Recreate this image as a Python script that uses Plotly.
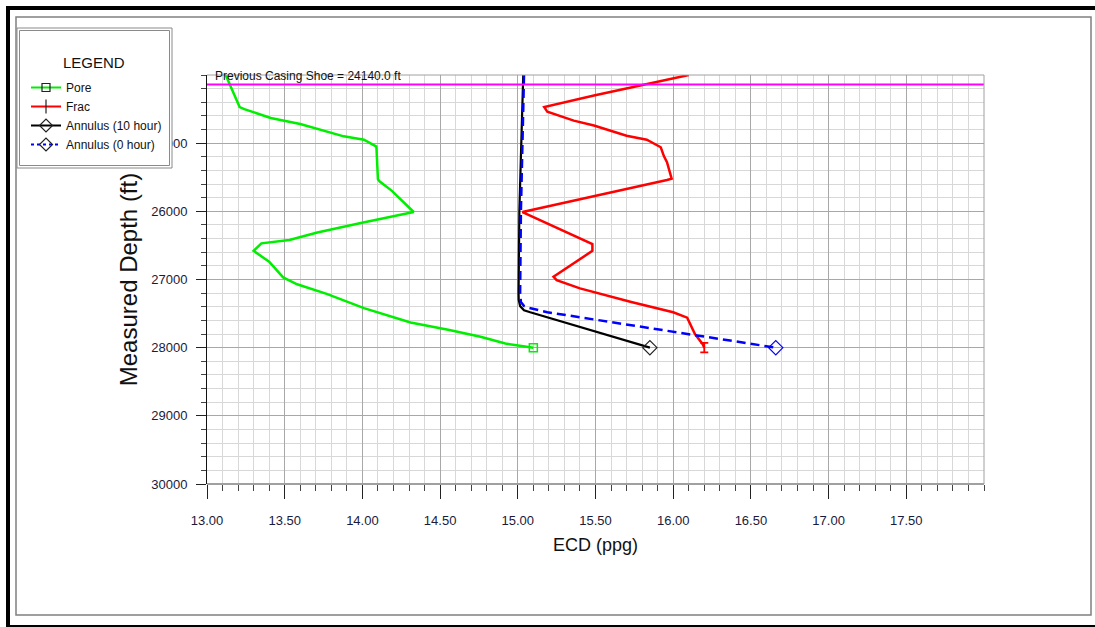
import plotly.graph_objects as go

# ---------------- data ----------------
pore_ecd = [13.12, 13.16, 13.21, 13.24, 13.41, 13.60, 13.88, 14.01, 14.09, 14.10, 14.11, 14.19, 14.33,
            13.99, 13.71, 13.53, 13.35, 13.30, 13.40, 13.49, 13.58, 13.77, 14.01, 14.31, 14.56, 14.76,
            14.92, 15.10]
pore_depth = [24000, 24200, 24470, 24500, 24630, 24720, 24900, 24950, 25050, 25530, 25560, 25700, 26010,
              26170, 26310, 26420, 26470, 26580, 26740, 26970, 27070, 27210, 27420, 27630, 27740, 27840,
              27940, 28000]

frac_ecd = [16.10, 15.49, 15.17, 15.19, 15.36, 15.49, 15.70, 15.83, 15.92, 15.94, 15.96, 15.99, 15.96,
            15.03, 15.48, 15.48, 15.23, 15.25, 15.40, 15.73, 16.00, 16.09, 16.14, 16.19, 16.20]
frac_depth = [24000, 24300, 24470, 24540, 24670, 24740, 24890, 24950, 25060, 25190, 25280, 25520, 25540,
              26010, 26480, 26580, 26960, 27010, 27130, 27330, 27480, 27560, 27800, 27950, 28000]

ann10_ecd = [15.035, 15.03, 15.02, 15.01, 15.005, 15.006, 15.015, 15.04, 15.08, 15.85]
ann10_depth = [24000, 24450, 25250, 26000, 27200, 27300, 27390, 27450, 27480, 28000]

ann0_ecd = [15.04, 15.035, 15.03, 15.02, 15.015, 15.02, 15.04, 15.06, 15.19, 15.62, 16.05, 16.66]
ann0_depth = [24000, 24450, 25250, 26000, 27200, 27330, 27390, 27410, 27480, 27630, 27780, 28000]

casing_depth = 24140
casing_label = "Previous Casing Shoe = 24140.0 ft"

x_tickvals = [13.0, 13.5, 14.0, 14.5, 15.0, 15.5, 16.0, 16.5, 17.0, 17.5]
x_ticktext = ["13.00", "13.50", "14.00", "14.50", "15.00", "15.50", "16.00", "16.50", "17.00", "17.50"]
y_tickvals = [25000, 26000, 27000, 28000, 29000, 30000]
y_ticktext = ["25000", "26000", "27000", "28000", "29000", "30000"]

series_names = ["Pore", "Frac", "Annulus (10 hour)", "Annulus (0 hour)"]

# ---------------- layout helpers ----------------
W, H = 1095, 627
L, R, T, B = 207, 111, 75, 143
PW, PH = W - L - R, H - T - B


def px(x):
    return (x - L) / PW


def py(y):
    return (T + PH - y) / PH


SANS = "Liberation Sans, Arial, sans-serif"
GREEN, RED, BLACK, BLUE = "#00ee00", "#ff0000", "#000000", "#0000ff"

fig = go.Figure()

# data lines
fig.add_trace(go.Scatter(x=pore_ecd, y=pore_depth, mode="lines", line=dict(color=GREEN, width=2.5),
                         showlegend=False, hoverinfo="skip"))
fig.add_trace(go.Scatter(x=frac_ecd, y=frac_depth, mode="lines", line=dict(color=RED, width=2.5),
                         showlegend=False, hoverinfo="skip"))
fig.add_trace(go.Scatter(x=ann10_ecd, y=ann10_depth, mode="lines", line=dict(color=BLACK, width=2.2),
                         showlegend=False, hoverinfo="skip"))
fig.add_trace(go.Scatter(x=ann0_ecd, y=ann0_depth, mode="lines",
                         line=dict(color=BLUE, width=2.5, dash="9px,5px"),
                         showlegend=False, hoverinfo="skip"))

# end markers
fig.add_trace(go.Scatter(x=[pore_ecd[-1]], y=[pore_depth[-1]], mode="markers",
                         marker=dict(symbol="square-open", size=8, color=GREEN, line=dict(width=1.5)),
                         showlegend=False, hoverinfo="skip"))
fig.add_trace(go.Scatter(x=[frac_ecd[-1]], y=[frac_depth[-1]], mode="markers",
                         marker=dict(symbol="line-ew", size=1, color=RED, line=dict(width=1, color=RED)),
                         error_y=dict(type="data", array=[70], color=RED, thickness=1.8, width=4),
                         showlegend=False, hoverinfo="skip"))
fig.add_trace(go.Scatter(x=[ann10_ecd[-1]], y=[ann10_depth[-1]], mode="markers",
                         marker=dict(symbol="diamond-open", size=11, color="#222", line=dict(width=1.2)),
                         showlegend=False, hoverinfo="skip"))
fig.add_trace(go.Scatter(x=[ann0_ecd[-1]], y=[ann0_depth[-1]], mode="markers",
                         marker=dict(symbol="diamond-open", size=11, color=BLUE, line=dict(width=1.2)),
                         showlegend=False, hoverinfo="skip"))

# legend entries
legend_specs = [
    (series_names[0], GREEN, "solid", "square-open", 8),
    (series_names[1], RED, "solid", "line-ns", 10),
    (series_names[2], BLACK, "solid", "diamond-open", 10),
    (series_names[3], BLUE, "dot", "diamond-open", 10),
]
for name, col, dash, sym, size in legend_specs:
    fig.add_trace(go.Scatter(x=[None], y=[None], mode="lines+markers", name=name,
                             line=dict(color=col, width=2, dash=dash),
                             marker=dict(symbol=sym, size=size, color="#222",
                                         line=dict(width=1.2, color="#222"))))

shapes = [
    # casing shoe line
    dict(type="line", xref="x domain", yref="y", x0=0, x1=1, y0=casing_depth, y1=casing_depth,
         line=dict(color="#ff00ff", width=2), layer="above"),
    # plot frame (top, right, bottom)
    dict(type="line", xref="x domain", yref="y domain", x0=0, x1=1, y0=1, y1=1,
         line=dict(color="#a0a0a0", width=1), layer="above"),
    dict(type="line", xref="x domain", yref="y domain", x0=1, x1=1, y0=0, y1=1,
         line=dict(color="#a0a0a0", width=1), layer="above"),
    dict(type="line", xref="x domain", yref="y domain", x0=0, x1=1, y0=0, y1=0,
         line=dict(color="#a0a0a0", width=2), layer="above"),
    # outer black frame
    dict(type="line", xref="paper", yref="paper", x0=px(6), x1=px(1095), y0=py(8), y1=py(8),
         line=dict(color="black", width=4), layer="above"),
    dict(type="line", xref="paper", yref="paper", x0=px(8), x1=px(8), y0=py(6), y1=py(627),
         line=dict(color="black", width=4), layer="above"),
    dict(type="line", xref="paper", yref="paper", x0=px(6), x1=px(1095), y0=py(626), y1=py(626),
         line=dict(color="black", width=2), layer="above"),
    # inner grey frame
    dict(type="rect", xref="paper", yref="paper", x0=px(16), x1=px(1091), y0=py(17), y1=py(615),
         line=dict(color="#808080", width=1.5), layer="above"),
    # legend box (double border)
    dict(type="rect", xref="paper", yref="paper", x0=px(17), x1=px(172), y0=py(28), y1=py(168),
         line=dict(color="#8a8a8a", width=1), fillcolor="white", layer="above"),
    dict(type="rect", xref="paper", yref="paper", x0=px(19.5), x1=px(169.5), y0=py(30.5), y1=py(165.5),
         line=dict(color="#8a8a8a", width=1), layer="above"),
]

annotations = [
    dict(text=casing_label, xref="x", yref="y", x=13.04, y=24000, xanchor="left", yanchor="middle",
         yshift=-1, showarrow=False, font=dict(family=SANS, size=12, color="#111")),
    dict(text="LEGEND", xref="paper", yref="paper", x=px(94), y=py(62), xanchor="center",
         yanchor="middle", showarrow=False, font=dict(family=SANS, size=15, color="#111")),
]

fig.update_layout(
    width=W, height=H,
    margin=dict(l=L, r=R, t=T, b=B, autoexpand=False),
    paper_bgcolor="white", plot_bgcolor="white",
    shapes=shapes, annotations=annotations,
    showlegend=True,
    legend=dict(x=px(26), y=py(73), xanchor="left", yanchor="top", bgcolor="rgba(0,0,0,0)",
                borderwidth=0, font=dict(family=SANS, size=12, color="#111"),
                tracegroupgap=0, traceorder="normal", itemclick=False),
    xaxis=dict(range=[13, 18], tickmode="array", tickvals=x_tickvals, ticktext=x_ticktext,
               showgrid=True, gridcolor="#a8a8a8", gridwidth=1, zeroline=False,
               ticks="outside", ticklen=14, tickcolor="#222", tickwidth=1,
               tickfont=dict(family=SANS, size=13, color="#1a1a3a"), ticklabelstandoff=10,
               showline=False,
               minor=dict(tickmode="linear", tick0=13, dtick=0.1, showgrid=True, gridcolor="#d8d8d8",
                          ticks="outside", ticklen=6, tickcolor="#444"),
               title=dict(text="ECD (ppg)", font=dict(family=SANS, size=18, color="#111"), standoff=11),
               automargin=False),
    yaxis=dict(range=[30000, 24000], tickmode="array", tickvals=y_tickvals, ticktext=y_ticktext,
               showgrid=True, gridcolor="#a8a8a8", gridwidth=1, zeroline=False,
               ticks="outside", ticklen=10, tickcolor="#222", tickwidth=1,
               tickfont=dict(family=SANS, size=13, color="#1a1a3a"), ticklabelstandoff=6,
               showline=True, linecolor="#111", linewidth=1,
               minor=dict(tickmode="linear", tick0=24000, dtick=200, showgrid=True, gridcolor="#d8d8d8",
                          ticks="outside", ticklen=5, tickcolor="#444"),
               title=dict(text="Measured Depth (ft)", font=dict(family=SANS, size=24, color="#111"),
                          standoff=6),
               automargin=False),
)

fig.write_html("out.html")
